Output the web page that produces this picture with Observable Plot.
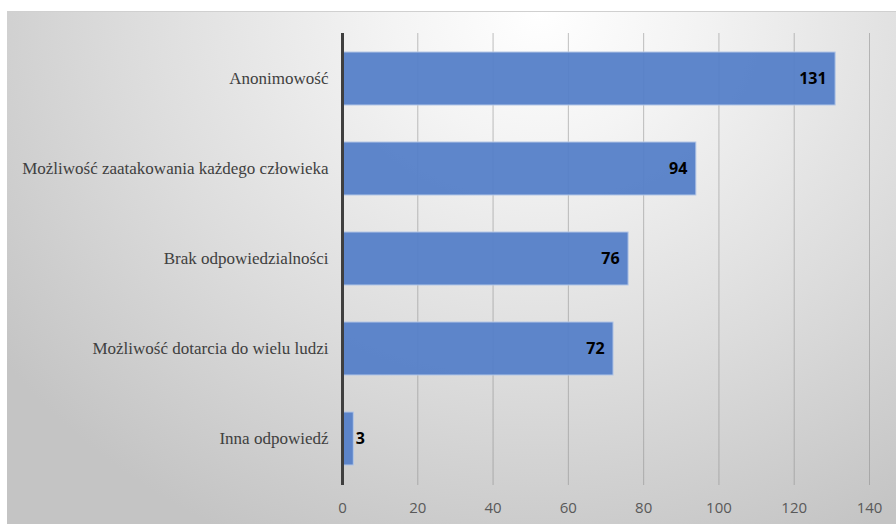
<!DOCTYPE html>
<html>
<head>
<meta charset="utf-8">
<script src="https://cdn.jsdelivr.net/npm/d3@7"></script>
<script src="https://cdn.jsdelivr.net/npm/@observablehq/plot@0.6"></script>
<style>
  html, body { margin: 0; padding: 0; background: #ffffff; }
  #frame {
    position: absolute;
    left: 7px;
    top: 11px;
    width: 889px;
    height: 513px;
    border-top: 1px solid #d0d0d0;
    box-sizing: border-box;
    background: radial-gradient(ellipse 75% 115% at 60% 0%, #ffffff 0%, #f4f4f4 22%, #dcdcdc 62%, #c4c4c4 100%);
    overflow: hidden;
  }
  #frame svg { display: block; background: transparent; }
</style>
</head>
<body>
<div id="frame"></div>
<script>
// Reasons given, with the number of respondents for each
const categories = [
  "Anonimowość",
  "Możliwość zaatakowania każdego człowieka",
  "Brak odpowiedzialności",
  "Możliwość dotarcia do wielu ludzi",
  "Inna odpowiedź"
];
const counts = [131, 94, 76, 72, 3];
const xTicks = [0, 20, 40, 60, 80, 100, 120, 140];

const rows = categories.map((category, i) => ({category, count: counts[i]}));

const chart = Plot.plot({
  width: 889,
  height: 512,
  marginLeft: 335,
  marginRight: 27,
  marginTop: 21,
  marginBottom: 39,
  style: {background: "transparent", overflow: "visible"},
  x: {domain: [0, 140], axis: null, label: null},
  y: {domain: categories, paddingInner: 0.41, paddingOuter: 0.205, axis: null, label: null},
  marks: [
    // vertical gridlines
    Plot.ruleX(xTicks.filter(d => d > 0), {stroke: "#8c8c8c", strokeOpacity: 0.55, strokeWidth: 1}),
    // bars
    Plot.barX(rows, {
      x: "count",
      y: "category",
      fill: "#5580c8",
      fillOpacity: 0.95,
      stroke: "#b3c6e6",
      strokeWidth: 1
    }),
    // value axis line at zero
    Plot.ruleX([0], {stroke: "#3f3f3f", strokeWidth: 3}),
    // value labels: inside the end of long bars, just past short ones
    Plot.text(rows.filter(d => d.count >= 10), {
      x: "count",
      y: "category",
      text: d => String(d.count),
      textAnchor: "end",
      dx: -9,
      fill: "#000000",
      fontWeight: "bold",
      fontSize: 16,
      fontFamily: "Open Sans"
    }),
    Plot.text(rows.filter(d => d.count < 10), {
      x: "count",
      y: "category",
      text: d => String(d.count),
      textAnchor: "start",
      dx: 2,
      fill: "#000000",
      fontWeight: "bold",
      fontSize: 16,
      fontFamily: "Open Sans"
    }),
    // category labels
    Plot.axisY({
      label: null,
      tickSize: 0,
      tickPadding: 14,
      fill: "#404040",
      fontSize: 17,
      fontFamily: "'Liberation Serif', 'DejaVu Serif', serif"
    }),
    // bottom tick labels
    Plot.axisX({
      label: null,
      ticks: xTicks,
      tickSize: 0,
      tickPadding: 17,
      tickFormat: d => String(d),
      fill: "#595959",
      fontSize: 15,
      fontFamily: "Open Sans"
    })
  ]
});

document.getElementById("frame").appendChild(chart);
</script>
</body>
</html>
